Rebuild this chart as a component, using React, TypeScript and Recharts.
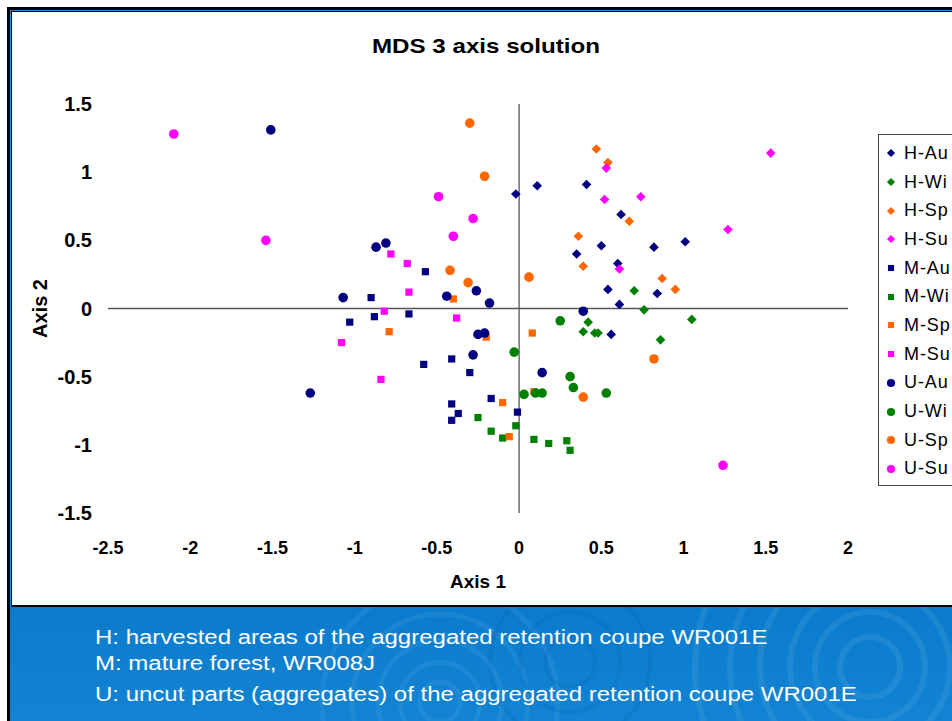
import React from 'react';
import { ScatterChart, Scatter, XAxis, YAxis, ReferenceLine, Legend, Label } from 'recharts';

// axis ticks
const xTicks = [-2.5, -2, -1.5, -1, -0.5, 0, 0.5, 1, 1.5, 2];
const yTicks = [-1.5, -1, -0.5, 0, 0.5, 1, 1.5];

// H: harvested areas (diamonds)
const hAu = [
  { x: -0.02, y: 0.84 }, { x: 0.11, y: 0.9 }, { x: 0.41, y: 0.91 }, { x: 0.62, y: 0.69 },
  { x: 0.5, y: 0.46 }, { x: 0.35, y: 0.4 }, { x: 0.82, y: 0.45 }, { x: 1.01, y: 0.49 },
  { x: 0.6, y: 0.33 }, { x: 0.54, y: 0.14 }, { x: 0.84, y: 0.11 }, { x: 0.61, y: 0.03 },
  { x: 0.56, y: -0.19 },
];
const hWi = [
  { x: 0.7, y: 0.13 }, { x: 0.76, y: -0.01 }, { x: 1.05, y: -0.08 }, { x: 0.42, y: -0.1 },
  { x: 0.39, y: -0.17 }, { x: 0.46, y: -0.18 }, { x: 0.48, y: -0.18 }, { x: 0.86, y: -0.23 },
];
const hSp = [
  { x: 0.47, y: 1.17 }, { x: 0.54, y: 1.07 }, { x: 0.67, y: 0.64 }, { x: 0.36, y: 0.53 },
  { x: 0.39, y: 0.31 }, { x: 0.87, y: 0.22 }, { x: 0.95, y: 0.14 },
];
const hSu = [
  { x: 0.53, y: 1.03 }, { x: 0.52, y: 0.8 }, { x: 0.74, y: 0.82 }, { x: 0.61, y: 0.29 },
  { x: 1.53, y: 1.14 }, { x: 1.27, y: 0.58 },
];

// M: mature forest (squares)
const mAu = [
  { x: -0.9, y: 0.08 }, { x: -0.88, y: -0.06 }, { x: -0.67, y: -0.04 }, { x: -1.03, y: -0.1 },
  { x: -0.57, y: 0.27 }, { x: -0.58, y: -0.41 }, { x: -0.41, y: -0.37 }, { x: -0.3, y: -0.47 },
  { x: -0.17, y: -0.66 }, { x: -0.41, y: -0.7 }, { x: -0.37, y: -0.77 }, { x: -0.41, y: -0.82 },
  { x: -0.01, y: -0.76 },
];
const mWi = [
  { x: -0.25, y: -0.8 }, { x: -0.02, y: -0.86 }, { x: -0.17, y: -0.9 }, { x: -0.1, y: -0.95 },
  { x: 0.09, y: -0.96 }, { x: 0.18, y: -0.99 }, { x: 0.29, y: -0.97 }, { x: 0.31, y: -1.04 },
];
const mSp = [
  { x: -0.79, y: -0.17 }, { x: -0.4, y: 0.07 }, { x: -0.2, y: -0.21 }, { x: 0.08, y: -0.18 },
  { x: 0.09, y: -0.61 }, { x: -0.1, y: -0.69 }, { x: -0.06, y: -0.94 },
];
const mSu = [
  { x: -0.78, y: 0.4 }, { x: -0.68, y: 0.33 }, { x: -0.67, y: 0.12 }, { x: -0.82, y: -0.02 },
  { x: -1.08, y: -0.25 }, { x: -0.84, y: -0.52 }, { x: -0.38, y: -0.07 },
];

// U: uncut parts (circles)
const uAu = [
  { x: -1.51, y: 1.31 }, { x: -0.87, y: 0.45 }, { x: -0.81, y: 0.48 }, { x: -1.07, y: 0.08 },
  { x: -1.27, y: -0.62 }, { x: -0.44, y: 0.09 }, { x: -0.26, y: 0.13 }, { x: -0.18, y: 0.04 },
  { x: 0.39, y: -0.02 }, { x: -0.25, y: -0.19 }, { x: -0.21, y: -0.18 }, { x: -0.28, y: -0.34 },
  { x: 0.14, y: -0.47 },
];
const uWi = [
  { x: 0.25, y: -0.09 }, { x: -0.03, y: -0.32 }, { x: 0.31, y: -0.5 }, { x: 0.33, y: -0.58 },
  { x: 0.53, y: -0.62 }, { x: 0.03, y: -0.63 }, { x: 0.1, y: -0.62 }, { x: 0.14, y: -0.62 },
];
const uSp = [
  { x: -0.3, y: 1.36 }, { x: -0.21, y: 0.97 }, { x: -0.42, y: 0.28 }, { x: -0.31, y: 0.19 },
  { x: 0.06, y: 0.23 }, { x: 0.82, y: -0.37 }, { x: 0.39, y: -0.65 },
];
const uSu = [
  { x: -2.1, y: 1.28 }, { x: -1.54, y: 0.5 }, { x: -0.49, y: 0.82 }, { x: -0.28, y: 0.66 },
  { x: -0.4, y: 0.53 }, { x: 1.24, y: -1.15 },
];

const captions = [
  'H: harvested areas of the aggregated retention coupe WR001E',
  'M: mature forest, WR008J',
  'U: uncut parts (aggregates) of the aggregated retention coupe WR001E',
];

const NAVY = '#000080';
const GREEN = '#008000';
const ORANGE = '#FF6600';
const PINK = '#FF00FF';

const series = [
  { name: 'H-Au', data: hAu, color: NAVY, kind: 'diamond' },
  { name: 'H-Wi', data: hWi, color: GREEN, kind: 'diamond' },
  { name: 'H-Sp', data: hSp, color: ORANGE, kind: 'diamond' },
  { name: 'H-Su', data: hSu, color: PINK, kind: 'diamond' },
  { name: 'M-Au', data: mAu, color: NAVY, kind: 'square' },
  { name: 'M-Wi', data: mWi, color: GREEN, kind: 'square' },
  { name: 'M-Sp', data: mSp, color: ORANGE, kind: 'square' },
  { name: 'M-Su', data: mSu, color: PINK, kind: 'square' },
  { name: 'U-Au', data: uAu, color: NAVY, kind: 'circle' },
  { name: 'U-Wi', data: uWi, color: GREEN, kind: 'circle' },
  { name: 'U-Sp', data: uSp, color: ORANGE, kind: 'circle' },
  { name: 'U-Su', data: uSu, color: PINK, kind: 'circle' },
];

const FONT = 'Arial, "Liberation Sans", sans-serif';

const Marker = ({ cx, cy, kind, color, s = 1 }: any) => {
  if (kind === 'diamond') {
    const r = 4.8 * s;
    return <polygon points={`${cx},${cy - r} ${cx + r},${cy} ${cx},${cy + r} ${cx - r},${cy}`} fill={color} />;
  }
  if (kind === 'square') {
    const h = 3.6 * s;
    return <rect x={cx - h} y={cy - h} width={h * 2} height={h * 2} fill={color} />;
  }
  return <circle cx={cx} cy={cy} r={4.8 * s} fill={color} />;
};

const LegendBox = ({ payload }: any) => {
  const names = (payload || []).map((p: any) => p.value);
  const items = series.filter((s) => names.includes(s.name));
  return (
    <div style={{ border: '1px solid #444', background: '#fff', padding: '4px 0 2px 0', fontFamily: FONT }}>
      {items.map((s) => (
        <div key={s.name} style={{ display: 'flex', alignItems: 'center', height: 28.7 }}>
          <svg width={12} height={12} style={{ marginLeft: 6, marginRight: 7 }}>
            <Marker cx={6} cy={6} kind={s.kind} color={s.color} s={s.kind === 'square' ? 0.85 : 0.85} />
          </svg>
          <span style={{ fontSize: 18, color: '#000', letterSpacing: 0.9, whiteSpace: 'nowrap' }}>{s.name}</span>
        </div>
      ))}
    </div>
  );
};

const XTitle = ({ viewBox }: any) => (
  <text x={viewBox.x + viewBox.width / 2} y={viewBox.y + 68} textAnchor="middle" dominantBaseline="central"
    fontFamily={FONT} fontWeight="bold" fontSize={19} fill="#000">Axis 1</text>
);

const YTitle = ({ viewBox }: any) => {
  const cx = viewBox.x + 16;
  const cy = viewBox.y + viewBox.height / 2;
  return (
    <text x={cx} y={cy} transform={`rotate(-90 ${cx} ${cy})`} textAnchor="middle" dominantBaseline="central"
      fontFamily={FONT} fontWeight="bold" fontSize={20} fill="#000">Axis 2</text>
  );
};

export default function App() {
  return (
    <div style={{ position: 'absolute', left: 0, top: 0, width: 952, height: 721, overflow: 'hidden', background: '#fff' }}>
      {/* slide frame */}
      <div style={{ position: 'absolute', left: 7, top: 7, width: 960, height: 730, background: '#000' }} />
      <div style={{ position: 'absolute', left: 10, top: 10, width: 960, height: 730, background: '#2a86d0' }} />
      <div style={{ position: 'absolute', left: 11, top: 11, width: 960, height: 730, background: '#000' }} />
      <div style={{ position: 'absolute', left: 12, top: 12, width: 960, height: 593, background: '#fff' }} />

      {/* blue caption band */}
      <div style={{
        position: 'absolute', left: 10, top: 607, width: 960, height: 120, overflow: 'hidden',
        background: 'linear-gradient(180deg, #0b7ccd 0%, #1284d3 100%)',
      }}>
        <svg width={960} height={120} style={{ position: 'absolute', left: 0, top: 0 }}>
          {[30, 55, 80, 110, 140, 175].map((r) => (
            <circle key={'a' + r} cx={860} cy={60} r={r} fill="none" stroke="rgba(255,255,255,0.07)" strokeWidth={6} />
          ))}
          {[20, 40, 62, 88, 118].map((r) => (
            <circle key={'b' + r} cx={430} cy={95} r={r} fill="none" stroke="rgba(255,255,255,0.06)" strokeWidth={5} />
          ))}
          {[25, 50, 80].map((r) => (
            <circle key={'c' + r} cx={560} cy={55} r={r} fill="none" stroke="rgba(0,40,110,0.08)" strokeWidth={4} />
          ))}
        </svg>
        {captions.map((c, i) => (
          <div key={c} style={{
            position: 'absolute', left: 85, top: [18, 44, 75][i], fontFamily: FONT, fontSize: 20, lineHeight: '24px',
            color: '#fff', whiteSpace: 'nowrap', transform: 'scaleX(1.2)', transformOrigin: '0 0',
          }}>{c}</div>
        ))}
      </div>

      {/* title */}
      <div style={{
        position: 'absolute', left: 0, top: 33, width: 972, textAlign: 'center', fontFamily: FONT,
        fontWeight: 'bold', fontSize: 21, lineHeight: '26px', color: '#000', transform: 'scaleX(1.15)',
      }}>MDS 3 axis solution</div>

      <div style={{ position: 'absolute', left: 12, top: 12 }}>
        <ScatterChart width={940} height={594} margin={{ top: 92, right: 104, bottom: 53, left: 12 }}>
          <XAxis type="number" dataKey="x" domain={[-2.5, 2]} ticks={xTicks} axisLine={false} tickLine={false}
            tickMargin={22} height={40} interval={0}
            tick={{ fontFamily: FONT, fontWeight: 'bold', fontSize: 18, fill: '#000' }}>
            <Label content={XTitle} />
          </XAxis>
          <YAxis type="number" dataKey="y" domain={[-1.5, 1.5]} ticks={yTicks} axisLine={false} tickLine={false}
            tickMargin={10} width={84} interval={0}
            tick={{ fontFamily: FONT, fontWeight: 'bold', fontSize: 20, fill: '#000' }}>
            <Label content={YTitle} />
          </YAxis>
          <ReferenceLine x={0} stroke="#555" strokeWidth={1.3} />
          <ReferenceLine y={0} stroke="#555" strokeWidth={1.3} />
          <Legend layout="vertical" align="center" verticalAlign="middle" content={LegendBox}
            wrapperStyle={{ left: 866, top: 122, width: 110 }} />
          {series.map((s) => (
            <Scatter key={s.name} name={s.name} data={s.data} fill={s.color} isAnimationActive={false}
              shape={(p: any) => <Marker cx={p.cx} cy={p.cy} kind={s.kind} color={s.color} />} />
          ))}
        </ScatterChart>
      </div>
    </div>
  );
}
